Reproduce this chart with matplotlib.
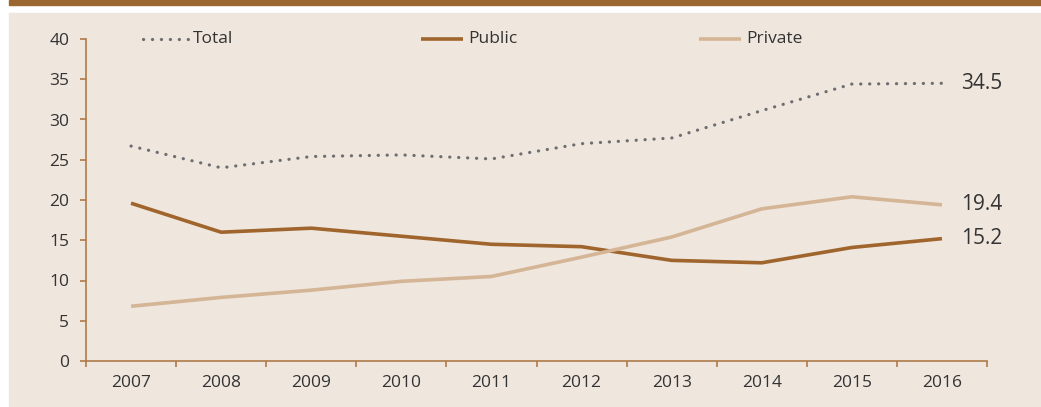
import matplotlib
matplotlib.use('Agg')
import matplotlib.pyplot as plt
from matplotlib.patches import Rectangle
from matplotlib.lines import Line2D
import numpy as np

years = ['2007', '2008', '2009', '2010', '2011', '2012', '2013', '2014', '2015', '2016']
total = [26.7, 24.0, 25.4, 25.6, 25.1, 27.0, 27.7, 31.1, 34.4, 34.5]
public = [19.6, 16.0, 16.5, 15.5, 14.5, 14.2, 12.5, 12.2, 14.1, 15.2]
private = [6.8, 7.9, 8.8, 9.9, 10.5, 12.9, 15.4, 18.9, 20.4, 19.4]
yticks = [0, 5, 10, 15, 20, 25, 30, 35, 40]

BROWN = '#A0652D'
SPINE = '#B07A48'
GREY = '#6D6E71'
TAN = '#D4B595'
PANEL = '#EFE6DE'
TEXT = '#333333'
DOTS = (0, (0.05, 2.75))

plt.rcParams['font.family'] = ['Open Sans', 'DejaVu Sans']

fig = plt.figure(figsize=(10.41, 4.07), dpi=100, facecolor='white')
W, H = 1041, 407

# beige panel and the brown strip above it
fig.patches.append(Rectangle((9 / W, 0), 1 - 9 / W, (H - 13) / H,
                             transform=fig.transFigure, color=PANEL, zorder=-2))
fig.patches.append(Rectangle((9 / W, (H - 4.5) / H), 1 - 9 / W, 4.5 / H,
                             transform=fig.transFigure, color='#9C6630', zorder=-2))

ax = fig.add_axes([86 / W, 46 / H, (987 - 86) / W, (361 - 39) / H])
ax.set_facecolor('none')

x = np.arange(len(years))
ax.plot(x, total, color=GREY, lw=2.3, linestyle=DOTS, dash_capstyle='round')
ax.plot(x, public, color=BROWN, lw=2.6, solid_capstyle='butt')
ax.plot(x, private, color=TAN, lw=2.6, solid_capstyle='butt')

# end-of-line values
for series in [total, public, private]:
    ax.annotate('{:.1f}'.format(series[-1]), xy=(x[-1], series[-1]),
                xytext=(14, 0), textcoords='offset points', va='center',
                ha='left', fontsize=15, color=TEXT, annotation_clip=False)

ax.set_xlim(-0.5, len(years) - 0.5)
ax.set_ylim(0, 40)
ax.set_yticks(yticks)
ax.set_xticks(x)
ax.set_xticklabels(years)
ax.set_xticks(np.arange(len(years) + 1) - 0.5, minor=True)
ax.tick_params(axis='x', which='major', length=0, pad=10, labelsize=12.5, labelcolor=TEXT)
ax.tick_params(axis='x', which='minor', length=4, width=1.2, color=SPINE, direction='out')
ax.tick_params(axis='y', length=4, width=1.2, color=SPINE, pad=8, labelsize=12.5, labelcolor=TEXT)

for s in ['top', 'right']:
    ax.spines[s].set_visible(False)
for s in ['left', 'bottom']:
    ax.spines[s].set_color(SPINE)
    ax.spines[s].set_linewidth(1.2)

# legend laid out across the top of the plot
entries = [('Total', GREY, DOTS, 143, 45),
           ('Public', BROWN, '-', 421, 42),
           ('Private', TAN, '-', 699, 42)]
span = 987 - 86
for label, col, ls, px, length in entries:
    x0 = (px - 86) / span
    x1 = (px + length - 86) / span
    ax.add_line(Line2D([x0, x1], [1.0, 1.0], transform=ax.transAxes, color=col,
                       lw=2.6 if ls == '-' else 2.3, linestyle=ls,
                       dash_capstyle='round', solid_capstyle='butt', clip_on=False))
    ax.text(x1 + 5 / span, 1.0, label, transform=ax.transAxes, va='center',
            ha='left', fontsize=12.5, color=TEXT)

fig.savefig('out.png', dpi=100, facecolor='white')
